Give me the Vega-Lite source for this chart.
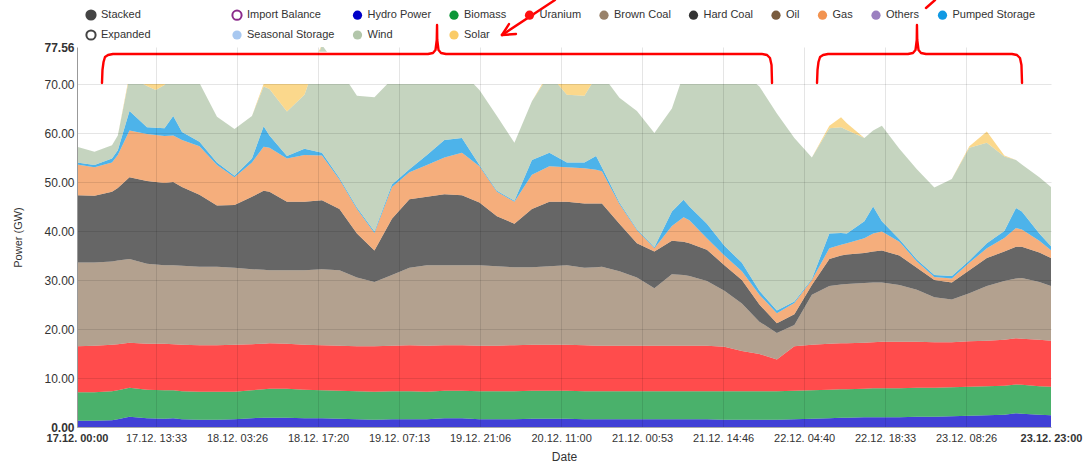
{
  "$schema": "https://vega.github.io/schema/vega-lite/v6.json",
  "width": 974,
  "height": 380,
  "autosize": {"type": "none"},
  "padding": {"left": 77, "top": 47, "right": 37, "bottom": 39},
  "background": "white",
  "config": {
    "view": {"stroke": null},
    "font": "Liberation Sans",
    "axis": {"labelFont": "Liberation Sans", "titleFont": "Liberation Sans", "labelFontSize": 12, "labelColor": "#333333", "titleColor": "#333333", "titleFontWeight": "normal"},
    "legend": {"labelFont": "Liberation Sans", "labelFontSize": 11, "labelColor": "#333333", "symbolSize": 85, "symbolType": "circle", "symbolStrokeWidth": 2, "symbolOpacity": 1, "padding": 0, "rowPadding": 2, "columnPadding": 13.5, "labelOffset": 4}
  },
  "datasets": {
    "gen": [
      {"t": "2019-12-17T00:00:00Z", "Hydro Power": 1.3, "Biomass": 5.8, "Uranium": 9.4, "Brown Coal": 17.1, "Hard Coal": 13.7, "Gas": 6.3, "Pumped Storage": 0.4, "Wind": 3.2, "Solar": 0},
      {"t": "2019-12-17T03:00:00Z", "Hydro Power": 1.3, "Biomass": 5.8, "Uranium": 9.5, "Brown Coal": 17.0, "Hard Coal": 13.6, "Gas": 5.8, "Pumped Storage": 0.5, "Wind": 2.7, "Solar": 0},
      {"t": "2019-12-17T06:00:00Z", "Hydro Power": 1.4, "Biomass": 5.9, "Uranium": 9.5, "Brown Coal": 17.0, "Hard Coal": 14.2, "Gas": 6.0, "Pumped Storage": 0.8, "Wind": 2.7, "Solar": 0},
      {"t": "2019-12-17T07:00:00Z", "Hydro Power": 1.6, "Biomass": 5.9, "Uranium": 9.4, "Brown Coal": 17.1, "Hard Coal": 14.8, "Gas": 6.7, "Pumped Storage": 1.0, "Wind": 3.0, "Solar": 0},
      {"t": "2019-12-17T09:00:00Z", "Hydro Power": 2.1, "Biomass": 5.9, "Uranium": 9.2, "Brown Coal": 17.1, "Hard Coal": 16.7, "Gas": 9.5, "Pumped Storage": 4.0, "Wind": 7.0, "Solar": 0.5},
      {"t": "2019-12-17T12:00:00Z", "Hydro Power": 1.8, "Biomass": 5.8, "Uranium": 9.4, "Brown Coal": 16.3, "Hard Coal": 16.9, "Gas": 9.6, "Pumped Storage": 1.4, "Wind": 8.4, "Solar": 3.0},
      {"t": "2019-12-17T13:30:00Z", "Hydro Power": 1.75, "Biomass": 5.8, "Uranium": 9.45, "Brown Coal": 16.15, "Hard Coal": 16.85, "Gas": 9.6, "Pumped Storage": 1.5, "Wind": 7.7, "Solar": 3.0},
      {"t": "2019-12-17T15:00:00Z", "Hydro Power": 1.7, "Biomass": 5.8, "Uranium": 9.5, "Brown Coal": 16.0, "Hard Coal": 16.8, "Gas": 9.6, "Pumped Storage": 1.6, "Wind": 8.8, "Solar": 1.0},
      {"t": "2019-12-17T16:30:00Z", "Hydro Power": 1.8, "Biomass": 5.7, "Uranium": 9.4, "Brown Coal": 16.1, "Hard Coal": 17.0, "Gas": 9.5, "Pumped Storage": 4.0, "Wind": 8.5, "Solar": 0},
      {"t": "2019-12-17T18:00:00Z", "Hydro Power": 1.6, "Biomass": 5.7, "Uranium": 9.5, "Brown Coal": 16.1, "Hard Coal": 16.1, "Gas": 9.6, "Pumped Storage": 1.6, "Wind": 11.8, "Solar": 0},
      {"t": "2019-12-17T21:00:00Z", "Hydro Power": 1.5, "Biomass": 5.7, "Uranium": 9.5, "Brown Coal": 16.0, "Hard Coal": 14.7, "Gas": 9.9, "Pumped Storage": 0.9, "Wind": 12.0, "Solar": 0},
      {"t": "2019-12-18T00:00:00Z", "Hydro Power": 1.5, "Biomass": 5.7, "Uranium": 9.5, "Brown Coal": 16.0, "Hard Coal": 12.5, "Gas": 8.3, "Pumped Storage": 0.5, "Wind": 9.3, "Solar": 0},
      {"t": "2019-12-18T03:00:00Z", "Hydro Power": 1.6, "Biomass": 5.6, "Uranium": 9.6, "Brown Coal": 15.7, "Hard Coal": 12.8, "Gas": 5.7, "Pumped Storage": 0.3, "Wind": 9.5, "Solar": 0},
      {"t": "2019-12-18T06:00:00Z", "Hydro Power": 1.8, "Biomass": 5.7, "Uranium": 9.4, "Brown Coal": 15.3, "Hard Coal": 14.8, "Gas": 7.0, "Pumped Storage": 0.8, "Wind": 8.7, "Solar": 0},
      {"t": "2019-12-18T08:00:00Z", "Hydro Power": 1.9, "Biomass": 5.8, "Uranium": 9.3, "Brown Coal": 15.1, "Hard Coal": 16.1, "Gas": 9.0, "Pumped Storage": 4.2, "Wind": 8.1, "Solar": 0.5},
      {"t": "2019-12-18T09:00:00Z", "Hydro Power": 1.9, "Biomass": 5.9, "Uranium": 9.3, "Brown Coal": 14.9, "Hard Coal": 16.0, "Gas": 9.0, "Pumped Storage": 2.5, "Wind": 9.5, "Solar": 2.5},
      {"t": "2019-12-18T12:00:00Z", "Hydro Power": 1.9, "Biomass": 5.9, "Uranium": 9.2, "Brown Coal": 15.0, "Hard Coal": 14.0, "Gas": 8.8, "Pumped Storage": 0.5, "Wind": 9.1, "Solar": 7.0},
      {"t": "2019-12-18T15:00:00Z", "Hydro Power": 1.8, "Biomass": 5.8, "Uranium": 9.2, "Brown Coal": 15.2, "Hard Coal": 14.0, "Gas": 9.5, "Pumped Storage": 1.3, "Wind": 11.0, "Solar": 3.0},
      {"t": "2019-12-18T18:00:00Z", "Hydro Power": 1.8, "Biomass": 5.7, "Uranium": 9.2, "Brown Coal": 15.5, "Hard Coal": 14.1, "Gas": 9.1, "Pumped Storage": 0.6, "Wind": 22.0, "Solar": 0},
      {"t": "2019-12-18T21:00:00Z", "Hydro Power": 1.7, "Biomass": 5.7, "Uranium": 9.2, "Brown Coal": 15.4, "Hard Coal": 12.5, "Gas": 6.0, "Pumped Storage": 0.3, "Wind": 22.2, "Solar": 0},
      {"t": "2019-12-19T00:00:00Z", "Hydro Power": 1.6, "Biomass": 5.7, "Uranium": 9.2, "Brown Coal": 14.0, "Hard Coal": 9.0, "Gas": 5.0, "Pumped Storage": 0.3, "Wind": 22.8, "Solar": 0},
      {"t": "2019-12-19T03:00:00Z", "Hydro Power": 1.5, "Biomass": 5.7, "Uranium": 9.3, "Brown Coal": 13.1, "Hard Coal": 6.4, "Gas": 3.6, "Pumped Storage": 0.3, "Wind": 27.4, "Solar": 0},
      {"t": "2019-12-19T06:00:00Z", "Hydro Power": 1.6, "Biomass": 5.7, "Uranium": 9.3, "Brown Coal": 14.4, "Hard Coal": 11.5, "Gas": 6.5, "Pumped Storage": 0.5, "Wind": 21.5, "Solar": 0},
      {"t": "2019-12-19T09:00:00Z", "Hydro Power": 1.6, "Biomass": 5.7, "Uranium": 9.4, "Brown Coal": 15.8, "Hard Coal": 14.0, "Gas": 5.5, "Pumped Storage": 0.6, "Wind": 20.4, "Solar": 1.0},
      {"t": "2019-12-19T12:00:00Z", "Hydro Power": 1.6, "Biomass": 5.6, "Uranium": 9.4, "Brown Coal": 16.4, "Hard Coal": 14.0, "Gas": 6.5, "Pumped Storage": 2.0, "Wind": 17.5, "Solar": 2.5},
      {"t": "2019-12-19T15:00:00Z", "Hydro Power": 1.8, "Biomass": 5.6, "Uranium": 9.3, "Brown Coal": 16.3, "Hard Coal": 14.5, "Gas": 7.5, "Pumped Storage": 3.6, "Wind": 14.4, "Solar": 1.0},
      {"t": "2019-12-19T18:00:00Z", "Hydro Power": 1.8, "Biomass": 5.6, "Uranium": 9.3, "Brown Coal": 16.3, "Hard Coal": 14.3, "Gas": 8.7, "Pumped Storage": 3.0, "Wind": 13.5, "Solar": 0},
      {"t": "2019-12-19T21:00:00Z", "Hydro Power": 1.6, "Biomass": 5.7, "Uranium": 9.3, "Brown Coal": 16.4, "Hard Coal": 12.8, "Gas": 7.4, "Pumped Storage": 0.3, "Wind": 15.3, "Solar": 0},
      {"t": "2019-12-20T00:00:00Z", "Hydro Power": 1.6, "Biomass": 5.7, "Uranium": 9.3, "Brown Coal": 16.2, "Hard Coal": 10.2, "Gas": 5.0, "Pumped Storage": 0.2, "Wind": 15.3, "Solar": 0},
      {"t": "2019-12-20T03:00:00Z", "Hydro Power": 1.6, "Biomass": 5.7, "Uranium": 9.4, "Brown Coal": 15.9, "Hard Coal": 8.9, "Gas": 4.5, "Pumped Storage": 0.2, "Wind": 11.8, "Solar": 0},
      {"t": "2019-12-20T06:00:00Z", "Hydro Power": 1.7, "Biomass": 5.7, "Uranium": 9.4, "Brown Coal": 15.8, "Hard Coal": 11.9, "Gas": 7.0, "Pumped Storage": 3.0, "Wind": 12.0, "Solar": 0},
      {"t": "2019-12-20T09:00:00Z", "Hydro Power": 1.7, "Biomass": 5.7, "Uranium": 9.4, "Brown Coal": 16.0, "Hard Coal": 13.2, "Gas": 7.2, "Pumped Storage": 2.8, "Wind": 16.0, "Solar": 0.5},
      {"t": "2019-12-20T12:00:00Z", "Hydro Power": 1.7, "Biomass": 5.7, "Uranium": 9.4, "Brown Coal": 16.2, "Hard Coal": 13.0, "Gas": 7.0, "Pumped Storage": 1.0, "Wind": 13.8, "Solar": 4.5},
      {"t": "2019-12-20T15:00:00Z", "Hydro Power": 1.6, "Biomass": 5.7, "Uranium": 9.4, "Brown Coal": 15.8, "Hard Coal": 13.1, "Gas": 7.2, "Pumped Storage": 1.2, "Wind": 13.6, "Solar": 3.5},
      {"t": "2019-12-20T17:00:00Z", "Hydro Power": 1.6, "Biomass": 5.7, "Uranium": 9.3, "Brown Coal": 16.0, "Hard Coal": 13.0, "Gas": 6.9, "Pumped Storage": 2.8, "Wind": 16.2, "Solar": 0},
      {"t": "2019-12-20T18:00:00Z", "Hydro Power": 1.6, "Biomass": 5.7, "Uranium": 9.3, "Brown Coal": 16.1, "Hard Coal": 12.9, "Gas": 6.6, "Pumped Storage": 0.8, "Wind": 19.0, "Solar": 0},
      {"t": "2019-12-20T21:00:00Z", "Hydro Power": 1.6, "Biomass": 5.7, "Uranium": 9.3, "Brown Coal": 15.2, "Hard Coal": 9.7, "Gas": 4.0, "Pumped Storage": 0.3, "Wind": 21.4, "Solar": 0},
      {"t": "2019-12-21T00:00:00Z", "Hydro Power": 1.6, "Biomass": 5.7, "Uranium": 9.3, "Brown Coal": 13.9, "Hard Coal": 7.0, "Gas": 2.7, "Pumped Storage": 0.2, "Wind": 24.1, "Solar": 0},
      {"t": "2019-12-21T03:00:00Z", "Hydro Power": 1.6, "Biomass": 5.7, "Uranium": 9.3, "Brown Coal": 11.7, "Hard Coal": 7.5, "Gas": 0.7, "Pumped Storage": 0.2, "Wind": 23.3, "Solar": 0},
      {"t": "2019-12-21T06:00:00Z", "Hydro Power": 1.6, "Biomass": 5.7, "Uranium": 9.3, "Brown Coal": 14.6, "Hard Coal": 6.8, "Gas": 3.0, "Pumped Storage": 3.0, "Wind": 21.0, "Solar": 0},
      {"t": "2019-12-21T08:00:00Z", "Hydro Power": 1.6, "Biomass": 5.7, "Uranium": 9.3, "Brown Coal": 14.4, "Hard Coal": 6.8, "Gas": 5.0, "Pumped Storage": 3.6, "Wind": 25.6, "Solar": 0},
      {"t": "2019-12-21T09:00:00Z", "Hydro Power": 1.6, "Biomass": 5.7, "Uranium": 9.3, "Brown Coal": 14.2, "Hard Coal": 6.7, "Gas": 4.7, "Pumped Storage": 2.8, "Wind": 28.0, "Solar": 0},
      {"t": "2019-12-21T12:00:00Z", "Hydro Power": 1.6, "Biomass": 5.7, "Uranium": 9.3, "Brown Coal": 13.2, "Hard Coal": 6.4, "Gas": 2.3, "Pumped Storage": 3.0, "Wind": 32.0, "Solar": 1.0},
      {"t": "2019-12-21T15:00:00Z", "Hydro Power": 1.5, "Biomass": 5.8, "Uranium": 9.1, "Brown Coal": 11.4, "Hard Coal": 5.2, "Gas": 2.0, "Pumped Storage": 2.0, "Wind": 37.0, "Solar": 0.5},
      {"t": "2019-12-21T18:00:00Z", "Hydro Power": 1.5, "Biomass": 5.8, "Uranium": 8.2, "Brown Coal": 9.7, "Hard Coal": 4.8, "Gas": 1.8, "Pumped Storage": 1.7, "Wind": 39.0, "Solar": 0},
      {"t": "2019-12-21T21:00:00Z", "Hydro Power": 1.5, "Biomass": 5.8, "Uranium": 7.6, "Brown Coal": 6.6, "Hard Coal": 3.5, "Gas": 2.0, "Pumped Storage": 0.8, "Wind": 41.7, "Solar": 0},
      {"t": "2019-12-22T00:00:00Z", "Hydro Power": 1.5, "Biomass": 5.8, "Uranium": 6.5, "Brown Coal": 5.4, "Hard Coal": 2.0, "Gas": 2.0, "Pumped Storage": 0.6, "Wind": 40.2, "Solar": 0},
      {"t": "2019-12-22T03:00:00Z", "Hydro Power": 1.6, "Biomass": 5.8, "Uranium": 9.1, "Brown Coal": 4.3, "Hard Coal": 2.2, "Gas": 2.3, "Pumped Storage": 0.3, "Wind": 33.4, "Solar": 0},
      {"t": "2019-12-22T06:00:00Z", "Hydro Power": 1.7, "Biomass": 5.8, "Uranium": 9.3, "Brown Coal": 10.2, "Hard Coal": 2.0, "Gas": 1.0, "Pumped Storage": 0.2, "Wind": 24.8, "Solar": 0},
      {"t": "2019-12-22T09:00:00Z", "Hydro Power": 1.8, "Biomass": 5.8, "Uranium": 9.4, "Brown Coal": 11.8, "Hard Coal": 5.5, "Gas": 2.2, "Pumped Storage": 3.0, "Wind": 21.5, "Solar": 0.5},
      {"t": "2019-12-22T11:00:00Z", "Hydro Power": 1.9, "Biomass": 5.8, "Uranium": 9.4, "Brown Coal": 12.0, "Hard Coal": 5.9, "Gas": 2.2, "Pumped Storage": 2.4, "Wind": 21.6, "Solar": 2.0},
      {"t": "2019-12-22T12:00:00Z", "Hydro Power": 1.9, "Biomass": 5.8, "Uranium": 9.4, "Brown Coal": 12.1, "Hard Coal": 6.0, "Gas": 2.3, "Pumped Storage": 2.0, "Wind": 21.1, "Solar": 1.4},
      {"t": "2019-12-22T15:00:00Z", "Hydro Power": 2.0, "Biomass": 5.8, "Uranium": 9.4, "Brown Coal": 12.2, "Hard Coal": 6.1, "Gas": 3.0, "Pumped Storage": 3.5, "Wind": 17.0, "Solar": 0},
      {"t": "2019-12-22T16:30:00Z", "Hydro Power": 2.0, "Biomass": 5.9, "Uranium": 9.4, "Brown Coal": 12.2, "Hard Coal": 6.3, "Gas": 3.7, "Pumped Storage": 5.5, "Wind": 15.5, "Solar": 0},
      {"t": "2019-12-22T18:00:00Z", "Hydro Power": 2.0, "Biomass": 5.9, "Uranium": 9.5, "Brown Coal": 12.1, "Hard Coal": 6.5, "Gas": 3.9, "Pumped Storage": 2.1, "Wind": 19.5, "Solar": 0},
      {"t": "2019-12-22T21:00:00Z", "Hydro Power": 2.0, "Biomass": 5.9, "Uranium": 9.5, "Brown Coal": 11.6, "Hard Coal": 6.0, "Gas": 2.8, "Pumped Storage": 0.5, "Wind": 18.5, "Solar": 0},
      {"t": "2019-12-23T00:00:00Z", "Hydro Power": 2.1, "Biomass": 5.9, "Uranium": 9.4, "Brown Coal": 10.6, "Hard Coal": 4.5, "Gas": 1.3, "Pumped Storage": 0.4, "Wind": 18.4, "Solar": 0},
      {"t": "2019-12-23T03:00:00Z", "Hydro Power": 2.1, "Biomass": 5.9, "Uranium": 9.3, "Brown Coal": 9.2, "Hard Coal": 3.5, "Gas": 0.6, "Pumped Storage": 0.4, "Wind": 17.9, "Solar": 0},
      {"t": "2019-12-23T06:00:00Z", "Hydro Power": 2.2, "Biomass": 5.9, "Uranium": 9.2, "Brown Coal": 8.7, "Hard Coal": 3.5, "Gas": 0.8, "Pumped Storage": 0.5, "Wind": 19.8, "Solar": 0},
      {"t": "2019-12-23T09:00:00Z", "Hydro Power": 2.3, "Biomass": 5.9, "Uranium": 9.3, "Brown Coal": 9.8, "Hard Coal": 4.7, "Gas": 1.5, "Pumped Storage": 0.5, "Wind": 23.0, "Solar": 0.3},
      {"t": "2019-12-23T12:00:00Z", "Hydro Power": 2.4, "Biomass": 5.9, "Uranium": 9.3, "Brown Coal": 11.2, "Hard Coal": 5.7, "Gas": 2.0, "Pumped Storage": 1.0, "Wind": 20.5, "Solar": 2.3},
      {"t": "2019-12-23T15:00:00Z", "Hydro Power": 2.5, "Biomass": 5.9, "Uranium": 9.4, "Brown Coal": 12.0, "Hard Coal": 6.0, "Gas": 2.8, "Pumped Storage": 1.4, "Wind": 15.2, "Solar": 0.2},
      {"t": "2019-12-23T17:00:00Z", "Hydro Power": 2.8, "Biomass": 5.9, "Uranium": 9.4, "Brown Coal": 12.2, "Hard Coal": 6.5, "Gas": 3.8, "Pumped Storage": 4.1, "Wind": 9.8, "Solar": 0},
      {"t": "2019-12-23T18:00:00Z", "Hydro Power": 2.7, "Biomass": 5.9, "Uranium": 9.4, "Brown Coal": 12.4, "Hard Coal": 6.4, "Gas": 3.5, "Pumped Storage": 3.7, "Wind": 9.6, "Solar": 0},
      {"t": "2019-12-23T21:00:00Z", "Hydro Power": 2.5, "Biomass": 5.8, "Uranium": 9.5, "Brown Coal": 11.8, "Hard Coal": 6.0, "Gas": 2.4, "Pumped Storage": 1.5, "Wind": 11.5, "Solar": 0},
      {"t": "2019-12-23T23:00:00Z", "Hydro Power": 2.4, "Biomass": 5.8, "Uranium": 9.4, "Brown Coal": 11.2, "Hard Coal": 5.7, "Gas": 1.6, "Pumped Storage": 0.8, "Wind": 12.1, "Solar": 0}
    ],
    "stackorder": [
      {"series": "Hydro Power", "ord": 1},
      {"series": "Biomass", "ord": 2},
      {"series": "Uranium", "ord": 3},
      {"series": "Brown Coal", "ord": 4},
      {"series": "Hard Coal", "ord": 5},
      {"series": "Gas", "ord": 6},
      {"series": "Pumped Storage", "ord": 7},
      {"series": "Wind", "ord": 8},
      {"series": "Solar", "ord": 9}
    ],
    "notes": [
      {"g": "b1", "i": 1, "t": "2019-12-17T04:17:00Z", "v": 70.21},
      {"g": "b1", "i": 2, "t": "2019-12-17T04:22:00Z", "v": 72.87},
      {"g": "b1", "i": 3, "t": "2019-12-17T04:33:00Z", "v": 74.5},
      {"g": "b1", "i": 4, "t": "2019-12-17T04:48:00Z", "v": 75.52},
      {"g": "b1", "i": 5, "t": "2019-12-17T05:19:00Z", "v": 75.93},
      {"g": "b1", "i": 6, "t": "2019-12-17T06:10:00Z", "v": 76.13},
      {"g": "b1", "i": 7, "t": "2019-12-19T12:11:00Z", "v": 76.13},
      {"g": "b1", "i": 8, "t": "2019-12-19T13:02:00Z", "v": 76.34},
      {"g": "b1", "i": 9, "t": "2019-12-19T13:28:00Z", "v": 76.95},
      {"g": "b1", "i": 10, "t": "2019-12-19T13:41:00Z", "v": 78.99},
      {"g": "b1", "i": 11, "t": "2019-12-19T13:44:00Z", "v": 82.05},
      {"g": "b1", "i": 12, "t": "2019-12-19T13:46:00Z", "v": 78.99},
      {"g": "b1", "i": 13, "t": "2019-12-19T13:59:00Z", "v": 76.95},
      {"g": "b1", "i": 14, "t": "2019-12-19T14:25:00Z", "v": 76.34},
      {"g": "b1", "i": 15, "t": "2019-12-19T15:16:00Z", "v": 76.13},
      {"g": "b1", "i": 16, "t": "2019-12-21T21:27:00Z", "v": 76.13},
      {"g": "b1", "i": 17, "t": "2019-12-21T22:19:00Z", "v": 75.93},
      {"g": "b1", "i": 18, "t": "2019-12-21T22:49:00Z", "v": 75.31},
      {"g": "b1", "i": 19, "t": "2019-12-21T23:05:00Z", "v": 73.88},
      {"g": "b1", "i": 20, "t": "2019-12-21T23:10:00Z", "v": 70.21},
      {"g": "b2", "i": 1, "t": "2019-12-22T06:53:00Z", "v": 70.21},
      {"g": "b2", "i": 2, "t": "2019-12-22T06:58:00Z", "v": 72.87},
      {"g": "b2", "i": 3, "t": "2019-12-22T07:08:00Z", "v": 74.5},
      {"g": "b2", "i": 4, "t": "2019-12-22T07:24:00Z", "v": 75.52},
      {"g": "b2", "i": 5, "t": "2019-12-22T07:55:00Z", "v": 75.93},
      {"g": "b2", "i": 6, "t": "2019-12-22T08:46:00Z", "v": 76.13},
      {"g": "b2", "i": 7, "t": "2019-12-22T22:29:00Z", "v": 76.13},
      {"g": "b2", "i": 8, "t": "2019-12-22T23:20:00Z", "v": 76.34},
      {"g": "b2", "i": 9, "t": "2019-12-22T23:46:00Z", "v": 76.95},
      {"g": "b2", "i": 10, "t": "2019-12-22T23:59:00Z", "v": 78.99},
      {"g": "b2", "i": 11, "t": "2019-12-23T00:01:00Z", "v": 82.05},
      {"g": "b2", "i": 12, "t": "2019-12-23T00:04:00Z", "v": 78.99},
      {"g": "b2", "i": 13, "t": "2019-12-23T00:17:00Z", "v": 76.95},
      {"g": "b2", "i": 14, "t": "2019-12-23T00:43:00Z", "v": 76.34},
      {"g": "b2", "i": 15, "t": "2019-12-23T01:34:00Z", "v": 76.13},
      {"g": "b2", "i": 16, "t": "2019-12-23T16:19:00Z", "v": 76.13},
      {"g": "b2", "i": 17, "t": "2019-12-23T17:10:00Z", "v": 75.93},
      {"g": "b2", "i": 18, "t": "2019-12-23T17:41:00Z", "v": 75.31},
      {"g": "b2", "i": 19, "t": "2019-12-23T17:56:00Z", "v": 73.88},
      {"g": "b2", "i": 20, "t": "2019-12-23T18:02:00Z", "v": 70.21},
      {"g": "a1", "i": 1, "t": "2019-12-20T09:57:00Z", "v": 87.15},
      {"g": "a1", "i": 2, "t": "2019-12-20T00:52:00Z", "v": 80.01},
      {"g": "a2", "i": 1, "t": "2019-12-20T00:52:00Z", "v": 80.01},
      {"g": "a2", "i": 2, "t": "2019-12-20T03:16:00Z", "v": 80.21},
      {"g": "a3", "i": 1, "t": "2019-12-20T00:52:00Z", "v": 80.01},
      {"g": "a3", "i": 2, "t": "2019-12-20T02:04:00Z", "v": 82.25},
      {"g": "c1", "i": 1, "t": "2019-12-23T01:34:00Z", "v": 85.52},
      {"g": "c1", "i": 2, "t": "2019-12-23T03:07:00Z", "v": 87.15}
    ],
    "modes": [{"mode": "Stacked"}, {"mode": "Expanded"}]
  },
  "layer": [
    {
      "data": {"name": "gen"},
      "transform": [
        {"fold": ["Hydro Power", "Biomass", "Uranium", "Brown Coal", "Hard Coal", "Gas", "Pumped Storage", "Wind", "Solar"], "as": ["series", "value"]},
        {"lookup": "series", "from": {"data": {"name": "stackorder"}, "key": "series", "fields": ["ord"]}}
      ],
      "mark": {"type": "area", "opacity": 0.75, "clip": true, "interpolate": "linear"},
      "encoding": {
        "x": {
          "field": "t", "type": "temporal",
          "scale": {"type": "utc", "domain": [{"year": 2019, "month": 12, "date": 17, "hours": 0, "utc": true}, {"year": 2019, "month": 12, "date": 23, "hours": 23, "utc": true}]},
          "axis": {
            "title": "Date", "titleFontSize": 12, "titlePadding": 8,
            "format": "%d.%m. %H:%M",
            "values": [
              {"year": 2019, "month": 12, "date": 17, "hours": 0, "minutes": 0, "utc": true},
              {"year": 2019, "month": 12, "date": 17, "hours": 13, "minutes": 33, "utc": true},
              {"year": 2019, "month": 12, "date": 18, "hours": 3, "minutes": 26, "utc": true},
              {"year": 2019, "month": 12, "date": 18, "hours": 17, "minutes": 20, "utc": true},
              {"year": 2019, "month": 12, "date": 19, "hours": 7, "minutes": 13, "utc": true},
              {"year": 2019, "month": 12, "date": 19, "hours": 21, "minutes": 6, "utc": true},
              {"year": 2019, "month": 12, "date": 20, "hours": 11, "minutes": 0, "utc": true},
              {"year": 2019, "month": 12, "date": 21, "hours": 0, "minutes": 53, "utc": true},
              {"year": 2019, "month": 12, "date": 21, "hours": 14, "minutes": 46, "utc": true},
              {"year": 2019, "month": 12, "date": 22, "hours": 4, "minutes": 40, "utc": true},
              {"year": 2019, "month": 12, "date": 22, "hours": 18, "minutes": 33, "utc": true},
              {"year": 2019, "month": 12, "date": 23, "hours": 8, "minutes": 26, "utc": true},
              {"year": 2019, "month": 12, "date": 23, "hours": 23, "minutes": 0, "utc": true}
            ],
            "labelFontSize": 11,
            "labelFlush": false, "labelOverlap": false, "ticks": false, "labelPadding": 5,
            "domainColor": "#aaaaaa",
            "zindex": 1,
            "gridColor": "#000000",
            "gridOpacity": {"condition": {"test": "+datum.value <= 1576540800000 || +datum.value >= 1577142000000", "value": 0}, "value": 0.1},
            "labelFontWeight": {"condition": {"test": "+datum.value <= 1576540800000 || +datum.value >= 1577142000000", "value": "bold"}, "value": "normal"}
          }
        },
        "y": {
          "field": "value", "type": "quantitative", "stack": "zero",
          "scale": {"domain": [0, 77.56], "nice": false, "zero": true},
          "axis": {
            "title": "Power (GW)", "titleFontSize": 11, "titlePadding": 20,
            "values": [0, 10, 20, 30, 40, 50, 60, 70, 77.56],
            "format": ".2f", "ticks": false, "labelPadding": 3,
            "domainColor": "#999999",
            "zindex": 1,
            "gridColor": "#000000",
            "gridOpacity": {"condition": {"test": "datum.value > 77", "value": 0}, "value": 0.1},
            "labelFontWeight": {"condition": {"test": "datum.value === 0 || datum.value > 77", "value": "bold"}, "value": "normal"}
          }
        },
        "color": {
          "field": "series", "type": "nominal",
          "scale": {
            "domain": ["Import Balance", "Hydro Power", "Biomass", "Uranium", "Brown Coal", "Hard Coal", "Oil", "Gas", "Others", "Pumped Storage", "Seasonal Storage", "Wind", "Solar"],
            "range": ["#ffffff", "#0000c8", "#0d9739", "#ff1010", "#99826a", "#333333", "#7a5c3e", "#f29350", "#9b80c0", "#1199e3", "#a8c8f0", "#b2c6aa", "#facb66"]
          },
          "legend": {
            "title": null, "orient": "none", "legendX": 154, "legendY": -38, "columns": 10, "direction": "horizontal",
            "symbolType": "circle", "symbolOpacity": 1
          }
        },
        "order": {"field": "ord", "type": "quantitative"}
      }
    },
    {
      "data": {"name": "stackorder"},
      "mark": {"type": "point", "opacity": 0, "strokeWidth": 2},
      "encoding": {
        "stroke": {
          "field": "series", "type": "nominal",
          "scale": {
            "domain": ["Import Balance", "Hydro Power", "Biomass", "Uranium", "Brown Coal", "Hard Coal", "Oil", "Gas", "Others", "Pumped Storage", "Seasonal Storage", "Wind", "Solar"],
            "range": ["#8b2a8b", "transparent", "transparent", "transparent", "transparent", "transparent", "transparent", "transparent", "transparent", "transparent", "transparent", "transparent", "transparent"]
          },
          "legend": {
            "title": null, "orient": "none", "legendX": 154, "legendY": -38, "columns": 10, "direction": "horizontal",
            "symbolType": "circle", "symbolOpacity": 1
          }
        }
      }
    },
    {
      "data": {"values": [{}]},
      "mark": {"type": "rect", "color": "#ffffff", "clip": true},
      "encoding": {
        "y": {"datum": 70, "type": "quantitative"},
        "y2": {"datum": 76.6}
      }
    },
    {
      "data": {"name": "notes"},
      "mark": {"type": "line", "color": "#ff0000", "strokeWidth": 2.4, "strokeCap": "round", "strokeJoin": "round", "clip": false},
      "encoding": {
        "x": {"field": "t", "type": "temporal"},
        "y": {"field": "v", "type": "quantitative"},
        "detail": {"field": "g", "type": "nominal"},
        "order": {"field": "i", "type": "quantitative"}
      }
    },
    {
      "data": {"name": "modes"},
      "mark": {"type": "point", "filled": true, "opacity": 0, "stroke": "#444444", "strokeWidth": 2},
      "encoding": {
        "fill": {
          "field": "mode", "type": "nominal",
          "scale": {"domain": ["Stacked", "Expanded"], "range": ["#444444", "#ffffff"]},
          "legend": {
            "title": null, "orient": "none", "legendX": 8, "legendY": -38, "columns": 1, "rowPadding": 2,
            "symbolType": "circle", "symbolOpacity": 1, "symbolStrokeColor": "#444444", "symbolStrokeWidth": 2
          }
        }
      }
    }
  ]
}
